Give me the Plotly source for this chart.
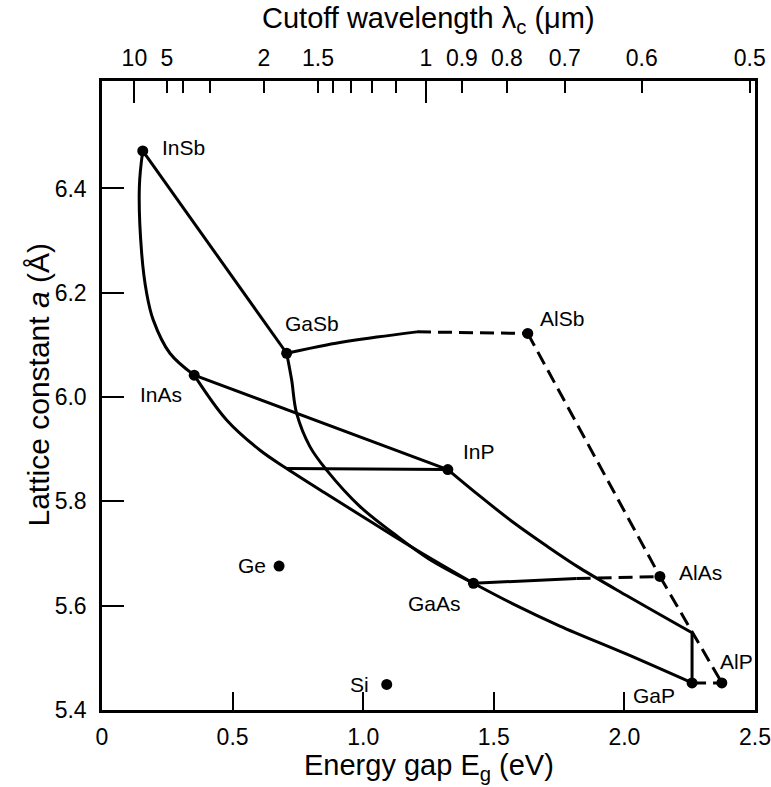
import plotly.graph_objects as go

# ---------------- data ----------------
compounds = ["InSb", "GaSb", "AlSb", "InAs", "InP", "GaAs", "AlAs", "GaP", "AlP", "Ge", "Si"]
energy_gap = [0.156, 0.707, 1.630, 0.353, 1.324, 1.422, 2.136, 2.259, 2.373, 0.678, 1.090]
lattice_const = [6.472, 6.084, 6.122, 6.042, 5.861, 5.643, 5.656, 5.452, 5.452, 5.676, 5.449]

# ternary curves (energy gap, lattice constant)
insb_inas_eg = [0.156, 0.143, 0.152, 0.171, 0.196, 0.260, 0.353]
insb_inas_a = [6.472, 6.403, 6.275, 6.199, 6.148, 6.084, 6.042]
insb_gasb_eg = [0.156, 0.707]
insb_gasb_a = [6.472, 6.084]
gasb_alsb_solid_eg = [0.707, 0.860, 1.052, 1.206]
gasb_alsb_solid_a = [6.084, 6.100, 6.115, 6.125]
gasb_alsb_dash_eg = [1.206, 1.630]
gasb_alsb_dash_a = [6.125, 6.122]
inas_gaas_eg = [0.353, 0.477, 0.605, 0.707, 0.860, 0.988, 1.115, 1.217, 1.422]
inas_gaas_a = [6.042, 5.956, 5.898, 5.863, 5.814, 5.774, 5.734, 5.703, 5.643]
gasb_gaas_eg = [0.707, 0.726, 0.745, 0.796, 0.860, 0.988, 1.115, 1.250, 1.422]
gasb_gaas_a = [6.084, 6.033, 5.969, 5.905, 5.860, 5.790, 5.739, 5.690, 5.643]
inas_inp_eg = [0.353, 1.324]
inas_inp_a = [6.042, 5.861]
ingaas_inp_eg = [0.707, 1.324]
ingaas_inp_a = [5.863, 5.861]
inp_gap_eg = [1.324, 1.447, 1.574, 1.704, 1.830, 2.010, 2.259]
inp_gap_a = [5.861, 5.810, 5.760, 5.714, 5.672, 5.619, 5.548]
gap_drop_eg = [2.259, 2.259]
gap_drop_a = [5.548, 5.452]
gaas_gap_eg = [1.422, 1.575, 1.753, 2.009, 2.259]
gaas_gap_a = [5.643, 5.603, 5.561, 5.507, 5.452]
gaas_alas_solid_eg = [1.422, 1.817]
gaas_alas_solid_a = [5.643, 5.652]
gaas_alas_dash_eg = [1.817, 2.136]
gaas_alas_dash_a = [5.652, 5.656]
alsb_alas_eg = [1.630, 2.136]
alsb_alas_a = [6.122, 5.656]
alas_alp_eg = [2.136, 2.373]
alas_alp_a = [5.656, 5.452]
gap_alp_eg = [2.259, 2.373]
gap_alp_a = [5.452, 5.452]

# axis ticks
x_tick_vals = [0, 0.5, 1.0, 1.5, 2.0, 2.5]
x_tick_text = ["0", "0.5", "1.0", "1.5", "2.0", "2.5"]
y_tick_vals = [5.4, 5.6, 5.8, 6.0, 6.2, 6.4]
y_tick_text = ["5.4", "5.6", "5.8", "6.0", "6.2", "6.4"]
wavelength_labeled = [10, 5, 2, 1.5, 1, 0.9, 0.8, 0.7, 0.6, 0.5]
wavelength_text = ["10", "5", "2", "1.5", "1", "0.9", "0.8", "0.7", "0.6", "0.5"]
wavelength_minor = [4, 3, 1.4, 1.3, 1.2, 1.1]
wavelength_long = [10, 1]
hc_ev_um = 1.24

# titles
x_title = "Energy gap E<sub>g</sub> (eV)"
top_title = "Cutoff wavelength λ<sub>c</sub> (μm)"
y_title = "Lattice constant <i>a</i> (Å)"

# ---------------- styling ----------------
FONT = "Liberation Sans, Arial, Helvetica, sans-serif"
LW = 3
DASH = "14px,7px"
label_style = {
    "InSb": dict(xanchor="left", xshift=17, yshift=3),
    "GaSb": dict(xanchor="left", xshift=-4, yshift=30),
    "AlSb": dict(xanchor="left", xshift=10, yshift=15),
    "InAs": dict(xanchor="right", xshift=-10, yshift=-19),
    "InP": dict(xanchor="left", xshift=13, yshift=18),
    "GaAs": dict(xanchor="right", xshift=-10, yshift=-20),
    "AlAs": dict(xanchor="left", xshift=17, yshift=4),
    "GaP": dict(xanchor="right", xshift=-15, yshift=-13),
    "AlP": dict(xanchor="left", xshift=-4, yshift=21),
    "Ge": dict(xanchor="right", xshift=-11, yshift=1),
    "Si": dict(xanchor="right", xshift=-16, yshift=0),
}

fig = go.Figure()

def curve(xs, ys, dashed=False, spline=True):
    fig.add_trace(go.Scatter(
        x=xs, y=ys, mode="lines",
        line=dict(color="black", width=LW, dash=DASH if dashed else "solid",
                  shape="spline" if spline else "linear", smoothing=1.0),
        hoverinfo="skip", showlegend=False))

curve(insb_inas_eg, insb_inas_a)
curve(insb_gasb_eg, insb_gasb_a, spline=False)
curve(gasb_alsb_solid_eg, gasb_alsb_solid_a)
curve(gasb_alsb_dash_eg, gasb_alsb_dash_a, dashed=True, spline=False)
curve(inas_gaas_eg, inas_gaas_a)
curve(gasb_gaas_eg, gasb_gaas_a)
curve(inas_inp_eg, inas_inp_a, spline=False)
curve(ingaas_inp_eg, ingaas_inp_a, spline=False)
curve(inp_gap_eg, inp_gap_a)
curve(gap_drop_eg, gap_drop_a, spline=False)
curve(gaas_gap_eg, gaas_gap_a)
curve(gaas_alas_solid_eg, gaas_alas_solid_a, spline=False)
curve(gaas_alas_dash_eg, gaas_alas_dash_a, dashed=True, spline=False)
curve(alsb_alas_eg, alsb_alas_a, dashed=True, spline=False)
curve(alas_alp_eg, alas_alp_a, dashed=True, spline=False)
curve(gap_alp_eg, gap_alp_a, dashed=True, spline=False)

fig.add_trace(go.Scatter(
    x=energy_gap, y=lattice_const, mode="markers",
    marker=dict(color="black", size=11), text=compounds,
    hoverinfo="text", showlegend=False))

# invisible traces to activate the top axes
fig.add_trace(go.Scatter(x=[0, 2.5], y=[5.4, 5.4], xaxis="x2", yaxis="y",
                         mode="markers", marker=dict(opacity=0), hoverinfo="skip", showlegend=False))
fig.add_trace(go.Scatter(x=[0, 2.5], y=[5.4, 5.4], xaxis="x3", yaxis="y",
                         mode="markers", marker=dict(opacity=0), hoverinfo="skip", showlegend=False))

for name, e, a in zip(compounds, energy_gap, lattice_const):
    fig.add_annotation(x=e, y=a, text=name, showarrow=False, yanchor="middle",
                       font=dict(family=FONT, size=21, color="black"), **label_style[name])

TICKFONT = dict(size=23)
TITLEFONT = dict(family=FONT, size=29, color="black")

# axis titles as paper-anchored annotations
fig.add_annotation(xref="paper", yref="paper", x=0.5, y=0, yshift=-57, text=x_title,
                   showarrow=False, xanchor="center", yanchor="middle", font=TITLEFONT)
fig.add_annotation(xref="paper", yref="paper", x=0.5, y=1, yshift=61, text=top_title,
                   showarrow=False, xanchor="center", yanchor="middle", font=TITLEFONT)
fig.add_annotation(xref="paper", yref="paper", x=0, y=0.5, xshift=-64, yshift=10, text=y_title,
                   textangle=-90, showarrow=False, xanchor="center", yanchor="middle",
                   font=dict(family=FONT, size=30, color="black"))

fig.update_layout(
    width=771, height=787,
    margin=dict(l=102, r=16, t=81, b=77),
    paper_bgcolor="white", plot_bgcolor="white",
    font=dict(family=FONT, color="black"),
    xaxis=dict(range=[0, 2.5], tickmode="array", tickvals=x_tick_vals, ticktext=x_tick_text,
               ticks="inside", ticklen=18, tickwidth=1.5, tickcolor="black",
               showline=True, linewidth=2.5, linecolor="black", showgrid=False, zeroline=False,
               tickfont=TICKFONT, ticklabelstandoff=5, automargin=False),
    xaxis2=dict(range=[0, 2.5], overlaying="x", side="top", anchor="y", tickmode="array",
                tickvals=[hc_ev_um / l for l in wavelength_labeled], ticktext=wavelength_text,
                ticks="inside", ticklen=12, tickwidth=1.5, tickcolor="black",
                minor=dict(tickmode="array", tickvals=[hc_ev_um / l for l in wavelength_minor],
                           ticks="inside", ticklen=12, tickwidth=1.5, tickcolor="black"),
                showline=True, linewidth=2.5, linecolor="black", showgrid=False, zeroline=False,
                tickfont=TICKFONT, ticklabelstandoff=3, automargin=False),
    xaxis3=dict(range=[0, 2.5], overlaying="x", side="top", anchor="y", tickmode="array",
                tickvals=[hc_ev_um / l for l in wavelength_long], showticklabels=False,
                ticks="inside", ticklen=22, tickwidth=1.5, tickcolor="black",
                showline=False, showgrid=False, zeroline=False, automargin=False),
    yaxis=dict(range=[5.4, 6.606], tickmode="array", tickvals=y_tick_vals, ticktext=y_tick_text,
               ticks="inside", ticklen=22, tickwidth=1.5, tickcolor="black",
               showline=True, linewidth=2.5, linecolor="black", mirror=True,
               showgrid=False, zeroline=False, tickfont=TICKFONT, ticklabelstandoff=8,
               automargin=False),
)

fig.write_html("out.html", config={"displayModeBar": False},
               post_script="document.body.style.margin='0';")
